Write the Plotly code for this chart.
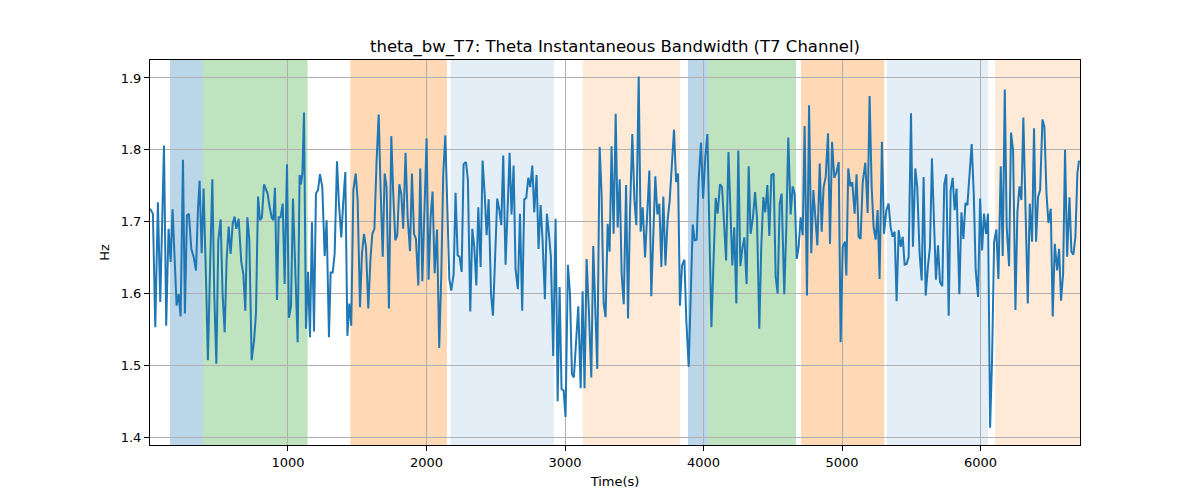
import plotly.graph_objects as go

# sample times (s) and instantaneous theta bandwidth (Hz)
time_s = [
    5, 25, 42, 61, 78, 105, 121, 138, 153, 167, 196, 211, 225, 242, 256, 271, 285, 302, 319, 336,
    350, 362, 377, 391, 408, 422, 439, 454, 468, 483, 497, 514, 528, 543, 557, 572, 586, 601, 615, 627,
    644, 663, 678, 692, 707, 721, 738, 755, 769, 784, 798, 812, 827,
    853, 868, 882, 894, 906, 921, 933, 947, 962, 976, 993, 1007, 1022, 1036, 1051, 1070, 1084, 1094, 1104, 1116,
    1130, 1145, 1159, 1173, 1188, 1202, 1217, 1231, 1248, 1265, 1279, 1296, 1308, 1323, 1337, 1354, 1368, 1385,
    1400, 1414, 1429, 1443, 1457, 1472, 1489, 1503, 1520, 1534, 1549, 1563, 1580, 1595, 1609, 1624, 1640, 1655,
    1669, 1684, 1698,
    1712, 1729, 1746, 1760, 1775, 1789, 1804, 1818, 1832, 1849, 1864, 1881, 1895, 1910, 1924, 1941, 1955, 1970,
    1984, 2001, 2015, 2030, 2044, 2059, 2076, 2092, 2107, 2121, 2136, 2150, 2165, 2179, 2196, 2210, 2225, 2239,
    2254, 2268, 2285, 2299, 2316, 2331, 2345, 2360, 2374, 2391, 2405, 2420, 2434, 2449, 2466, 2480, 2497, 2511, 2526,
    2540, 2554, 2571, 2585, 2600, 2614, 2629, 2643, 2660, 2675, 2691, 2706, 2720, 2735, 2749, 2764, 2778, 2795,
    2809, 2824, 2838, 2855, 2869, 2884, 2898, 2915, 2932, 2947, 2961, 2975, 2990, 3004, 3021, 3036, 3050, 3064,
    3081, 3096, 3113, 3127, 3141, 3156, 3173, 3190, 3204, 3219, 3233, 3250, 3264, 3279, 3293, 3308, 3322, 3336, 3351,
    3366, 3380, 3395, 3409, 3424, 3441, 3455, 3469, 3486, 3501, 3515, 3532, 3546, 3561, 3578, 3592, 3609, 3623,
    3638, 3652, 3667, 3681, 3696, 3710, 3725, 3741, 3756, 3770, 3787, 3802, 3816, 3830, 3845, 3862, 3876, 3893,
    3907, 3922, 3936, 3951, 3965, 3982, 3997, 4013, 4028, 4042, 4057, 4071, 4088, 4102, 4119, 4134, 4148, 4163, 4180,
    4194, 4208, 4222, 4237, 4251, 4266, 4280, 4295, 4311, 4326, 4340, 4357, 4372, 4386, 4403, 4417, 4432, 4446,
    4461, 4475, 4490, 4506, 4521, 4535, 4550, 4564, 4583, 4598, 4612, 4629, 4644, 4658, 4673, 4687, 4701, 4716,
    4730, 4747, 4762, 4778, 4793, 4807, 4822, 4839, 4853, 4867, 4882, 4899, 4913, 4928, 4944, 4959, 4976, 4990,
    5005, 5022,
    5031, 5045, 5060, 5074, 5091, 5105, 5120, 5134, 5149, 5168, 5185, 5199, 5214, 5228, 5243, 5257, 5271, 5288,
    5303, 5320, 5336, 5351, 5365, 5380, 5394, 5409, 5423, 5438, 5452, 5466, 5481, 5498, 5512, 5529, 5543, 5560,
    5575, 5589, 5604, 5620, 5635, 5649, 5664, 5678, 5693, 5707, 5724, 5738, 5753, 5770, 5784, 5799, 5813, 5827, 5847,
    5862, 5876, 5891, 5905, 5919, 5936, 5951, 5965, 5982, 5997, 6011, 6025, 6040, 6054, 6069, 6083, 6098, 6114,
    6129, 6146, 6160, 6175, 6189, 6206, 6220, 6235, 6252, 6266, 6281, 6295, 6309, 6326, 6341, 6355, 6372, 6386,
    6401, 6415, 6430, 6447, 6461, 6476, 6490, 6507, 6521, 6536, 6553, 6567, 6581, 6596, 6610, 6625, 6642, 6656,
    6670, 6685, 6699, 6711,
]

theta_bw = [
    1.718, 1.711, 1.553, 1.727, 1.588, 1.806, 1.555, 1.690, 1.644, 1.717, 1.583, 1.599, 1.568, 1.786, 1.572, 1.709,
    1.711, 1.662, 1.651, 1.632, 1.716, 1.757, 1.656, 1.746, 1.623, 1.507, 1.646, 1.759, 1.599, 1.502, 1.674, 1.703,
    1.599, 1.546, 1.646, 1.693, 1.655, 1.697, 1.707, 1.690, 1.704, 1.644, 1.627, 1.576, 1.706, 1.674, 1.507, 1.534,
    1.572, 1.735, 1.702, 1.706, 1.752,
    1.739, 1.720, 1.706, 1.702, 1.747, 1.591, 1.706, 1.706, 1.725, 1.613, 1.780, 1.566, 1.583, 1.732, 1.637, 1.532,
    1.765, 1.752, 1.767, 1.852, 1.551, 1.630, 1.539, 1.699, 1.547, 1.739, 1.744, 1.766, 1.748, 1.652, 1.702, 1.539,
    1.629, 1.629, 1.655, 1.784, 1.725, 1.678, 1.730, 1.769, 1.541, 1.586, 1.555, 1.744, 1.767, 1.730, 1.581, 1.655,
    1.683, 1.665, 1.579, 1.646, 1.683, 1.690, 1.785, 1.849, 1.744, 1.651, 1.767,
    1.748, 1.579, 1.819, 1.739, 1.674, 1.681, 1.752, 1.739, 1.690, 1.796, 1.706, 1.659, 1.767, 1.683, 1.676, 1.611,
    1.774, 1.617, 1.702, 1.816, 1.619, 1.706, 1.742, 1.628, 1.689, 1.524, 1.627, 1.767, 1.820, 1.730, 1.620, 1.604,
    1.627, 1.740, 1.653, 1.651, 1.630, 1.780, 1.783, 1.758, 1.575, 1.690, 1.665, 1.611, 1.720, 1.637, 1.785, 1.739,
    1.681, 1.731, 1.599, 1.569, 1.665, 1.732, 1.716,
    1.695, 1.792, 1.640, 1.713, 1.796, 1.710, 1.778, 1.633, 1.606, 1.711, 1.576, 1.731, 1.733, 1.761, 1.748, 1.778,
    1.713, 1.765, 1.662, 1.723, 1.674, 1.592, 1.711, 1.683, 1.651, 1.513, 1.704, 1.450, 1.609, 1.467, 1.465, 1.428,
    1.640, 1.600, 1.488, 1.483, 1.544, 1.582, 1.468, 1.603, 1.468, 1.648, 1.572, 1.483, 1.666, 1.590, 1.495, 1.804,
    1.739, 1.586, 1.567, 1.697, 1.658, 1.805, 1.683,
    1.850, 1.692, 1.759, 1.627, 1.585, 1.751, 1.565, 1.711, 1.822, 1.730, 1.695, 1.902, 1.686, 1.720, 1.650, 1.702,
    1.771, 1.596, 1.683, 1.763, 1.710, 1.725, 1.637, 1.735, 1.639, 1.702, 1.730, 1.781, 1.828, 1.755, 1.767, 1.583,
    1.639, 1.647, 1.562, 1.498, 1.600, 1.696, 1.674, 1.675, 1.758, 1.810, 1.732, 1.790, 1.822, 1.693, 1.553, 1.637,
    1.733, 1.711, 1.752, 1.748, 1.706, 1.646, 1.797,
    1.730, 1.639, 1.692, 1.586, 1.799, 1.638, 1.662, 1.678, 1.613, 1.777, 1.683, 1.706, 1.741, 1.706, 1.551, 1.665,
    1.734, 1.713, 1.751, 1.680, 1.765, 1.767, 1.623, 1.600, 1.725, 1.739, 1.599, 1.693, 1.817, 1.710, 1.749, 1.739,
    1.648, 1.665, 1.706, 1.681, 1.833, 1.597, 1.862, 1.656, 1.744, 1.711, 1.667, 1.781, 1.686, 1.748, 1.762, 1.823,
    1.669, 1.811, 1.761, 1.768, 1.783, 1.532, 1.665, 1.672,
    1.625, 1.774, 1.749, 1.755, 1.711, 1.766, 1.679, 1.676, 1.754, 1.782, 1.712, 1.875, 1.748, 1.692, 1.675, 1.716,
    1.620, 1.811, 1.683, 1.716, 1.725, 1.692, 1.679, 1.686, 1.589, 1.688, 1.665, 1.679, 1.640, 1.641, 1.651, 1.851,
    1.665, 1.774, 1.748, 1.655, 1.618, 1.762, 1.597, 1.637, 1.665, 1.788, 1.693, 1.619, 1.667, 1.616, 1.610, 1.752,
    1.766, 1.569, 1.744, 1.761, 1.716, 1.746, 1.599,
    1.713, 1.676, 1.726, 1.723, 1.758, 1.808, 1.739, 1.632, 1.595, 1.732, 1.660, 1.711, 1.683, 1.711, 1.413, 1.507,
    1.672, 1.689, 1.620, 1.777, 1.652, 1.884, 1.692, 1.638, 1.824, 1.799, 1.577, 1.713, 1.749, 1.730, 1.845, 1.692,
    1.586, 1.725, 1.672, 1.830, 1.672, 1.734, 1.744, 1.842, 1.832, 1.739, 1.698, 1.718, 1.568, 1.669, 1.632, 1.662,
    1.590, 1.627, 1.800, 1.651, 1.734, 1.658, 1.654, 1.679, 1.767, 1.785,
]

# shaded stages (start, end in s) and their kind
region_start = [148, 386, 1450, 2174, 3129, 3888, 4030, 4704, 5324, 6105]
region_end = [386, 1142, 2148, 2920, 3830, 4030, 4668, 5305, 6054, 6720]
region_kind = ["blue", "green", "orange", "lightblue", "lightorange",
               "blue", "green", "orange", "lightblue", "lightorange"]

region_colors = {
    "blue": "rgba(31,119,180,0.3)",
    "green": "rgba(44,160,44,0.3)",
    "orange": "rgba(255,127,14,0.3)",
    "lightblue": "rgba(31,119,180,0.12)",
    "lightorange": "rgba(255,127,14,0.16)",
}

fig = go.Figure()

fig.add_trace(go.Scatter(
    x=time_s,
    y=theta_bw,
    mode="lines",
    line=dict(color="#1f77b4", width=2),
    showlegend=False,
))

for x0, x1, kind in zip(region_start, region_end, region_kind):
    fig.add_vrect(x0=x0, x1=x1, fillcolor=region_colors[kind], line_width=0, layer="below")

# page body has an 8px margin, so the plot box is offset accordingly
fig.update_layout(
    width=1200,
    height=500,
    paper_bgcolor="white",
    plot_bgcolor="white",
    font=dict(family="DejaVu Sans", size=13, color="black"),
    margin=dict(l=142, r=128, t=52, b=63),
    title=dict(
        text="theta_bw_T7: Theta Instantaneous Bandwidth (T7 Channel)",
        x=0.5,
        xref="paper",
        xanchor="center",
        y=1 - 38 / 500,
        yanchor="middle",
        font=dict(size=16.5, family="DejaVu Sans", color="black"),
    ),
    xaxis=dict(
        title=dict(text="Time(s)", standoff=8, font=dict(size=13)),
        range=[4, 6718],
        tickvals=[1000, 2000, 3000, 4000, 5000, 6000],
        showgrid=True,
        gridcolor="#b0b0b0",
        gridwidth=1,
        showline=True,
        linecolor="black",
        linewidth=1,
        mirror=True,
        ticks="outside",
        ticklen=5,
        tickcolor="black",
        zeroline=False,
    ),
    yaxis=dict(
        title=dict(text="Hz", standoff=8, font=dict(size=13)),
        range=[1.389, 1.925],
        tickvals=[1.4, 1.5, 1.6, 1.7, 1.8, 1.9],
        tickformat=".1f",
        showgrid=True,
        gridcolor="#b0b0b0",
        gridwidth=1,
        showline=True,
        linecolor="black",
        linewidth=1,
        mirror=True,
        ticks="outside",
        ticklen=5,
        tickcolor="black",
        zeroline=False,
    ),
)

fig.write_html("out.html")
